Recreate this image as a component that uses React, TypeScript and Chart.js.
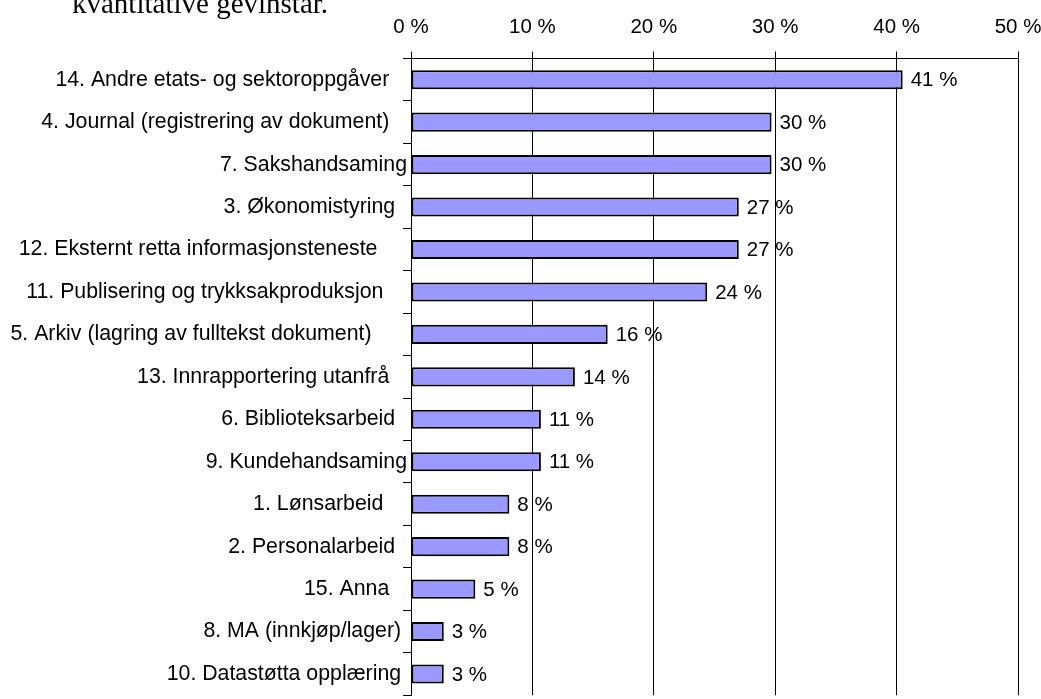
import React, { useEffect, useRef } from "react";
import { Chart, registerables } from "chart.js";

Chart.register(...registerables);

const categories = [
  "14. Andre etats- og sektoroppgåver",
  "4. Journal (registrering av dokument)",
  "7. Sakshandsaming",
  "3. Økonomistyring",
  "12. Eksternt retta informasjonsteneste",
  "11. Publisering og trykksakproduksjon",
  "5. Arkiv (lagring av fulltekst dokument)",
  "13. Innrapportering utanfrå",
  "6. Biblioteksarbeid",
  "9. Kundehandsaming",
  "1. Lønsarbeid",
  "2. Personalarbeid",
  "15. Anna",
  "8. MA (innkjøp/lager)",
  "10. Datastøtta opplæring",
];

const values = [40.5, 29.7, 29.7, 27.0, 27.0, 24.4, 16.2, 13.5, 10.7, 10.7, 8.1, 8.1, 5.3, 2.7, 2.7];

const valueLabels = ["41 %", "30 %", "30 %", "27 %", "27 %", "24 %", "16 %", "14 %", "11 %", "11 %", "8 %", "8 %", "5 %", "3 %", "3 %"];

const xTickValues = [0, 10, 20, 30, 40, 50];

// trailing blanks present in the original label texts
const labelTrailingBlanks = [3, 3, 0, 2, 5, 4, 6, 3, 2, 0, 4, 2, 3, 1, 1];

const headingText = "kvantitative gevinstar.";

const FONT = "'Liberation Sans', Arial, sans-serif";

const valueLabelPlugin = {
  id: "valueLabelPlugin",
  afterDatasetsDraw(chart: any) {
    const ctx = chart.ctx;
    const meta = chart.getDatasetMeta(0);
    ctx.save();
    ctx.font = `20.5px ${FONT}`;
    ctx.fillStyle = "#000";
    ctx.textAlign = "left";
    ctx.textBaseline = "middle";
    meta.data.forEach((bar: any, i: number) => {
      ctx.fillText(valueLabels[i], bar.x + 8, bar.y + 1);
    });
    ctx.restore();
  },
};

export default function App() {
  const canvasRef = useRef<HTMLCanvasElement | null>(null);

  useEffect(() => {
    if (!canvasRef.current) return;
    const chart = new Chart(canvasRef.current, {
      type: "bar",
      data: {
        labels: categories,
        datasets: [
          {
            data: values,
            backgroundColor: "#9999FF",
            borderColor: "#000000",
            borderWidth: 2,
            borderSkipped: false,
            categoryPercentage: 1,
            barPercentage: 0.45,
          },
        ],
      },
      options: {
        indexAxis: "y",
        responsive: false,
        animation: false,
        devicePixelRatio: 1,
        layout: { padding: { left: 0, right: 23, top: 0, bottom: 0 } },
        plugins: {
          legend: { display: false },
          tooltip: { enabled: false },
          title: { display: false },
        },
        scales: {
          x: {
            type: "linear",
            position: "top",
            min: 0,
            max: 50,
            afterBuildTicks: (scale: any) => {
              scale.ticks = xTickValues.map((v) => ({ value: v }));
            },
            afterFit: (scale: any) => {
              scale.height = 58.5;
              scale.paddingLeft = 0;
              scale.paddingRight = 0;
            },
            ticks: {
              color: "#000",
              font: { family: FONT, size: 20.5 },
              padding: 12,
              maxRotation: 0,
              callback: (v: any) => `${v} %`,
            },
            grid: {
              color: "#000",
              lineWidth: 1,
              drawTicks: true,
              tickLength: 7,
            },
            border: { display: true, color: "#000", width: 1 },
          },
          y: {
            type: "category",
            position: "left",
            afterFit: (scale: any) => {
              scale.width = 411;
            },
            ticks: {
              color: "#000",
              font: { family: FONT, size: 21.3 },
              padding: -4,
              autoSkip: false,
              callback: (_v: any, i: number) => categories[i] + " ".repeat(labelTrailingBlanks[i]),
            },
            grid: {
              offset: true,
              drawOnChartArea: false,
              drawTicks: true,
              tickLength: 8,
              color: "#000",
              lineWidth: 1,
            },
            border: { display: true, color: "#000", width: 1 },
          },
        },
      },
      plugins: [valueLabelPlugin],
    } as any);
    return () => chart.destroy();
  }, []);

  return (
    <div
      style={{
        position: "fixed",
        left: 0,
        top: 0,
        width: 1041,
        height: 699,
        overflow: "hidden",
        background: "#fff",
      }}
    >
      <canvas
        ref={canvasRef}
        width={1041}
        height={704}
        style={{ position: "absolute", left: 0, top: 0, width: 1041, height: 704 }}
      />
      <div
        style={{
          position: "absolute",
          left: 72,
          top: -11,
          font: "29px 'Liberation Serif', 'Times New Roman', serif",
          lineHeight: "29px",
          whiteSpace: "nowrap",
          color: "#000",
        }}
      >
        {headingText}
      </div>
    </div>
  );
}
